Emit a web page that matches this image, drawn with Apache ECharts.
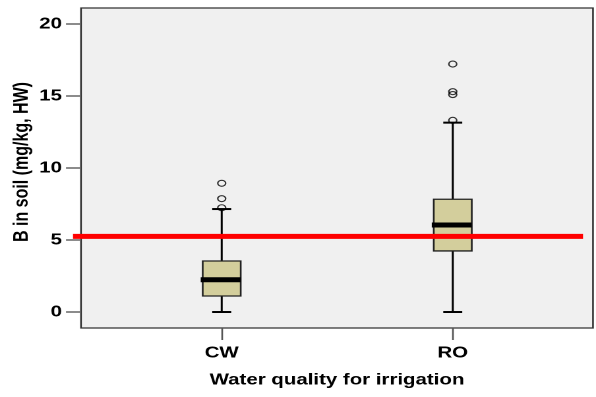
<!DOCTYPE html>
<html>
<head>
<meta charset="utf-8">
<script src="https://cdn.jsdelivr.net/npm/echarts@6/dist/echarts.min.js"></script>
<style>
  html, body { margin: 0; padding: 0; background: #ffffff; overflow: hidden; }
  #wrap { width: 596px; height: 397px; overflow: hidden; }
  #chart { height: 397px; transform-origin: 0 0; }
</style>
</head>
<body>
<div id="wrap"><div id="chart"></div></div>
<script>
// Boron in soil by irrigation water quality
const categories = ['CW', 'RO'];
const lowWhisker = [0, 0];
const q1 = [1.11, 4.24];
const median = [2.24, 6.04];
const q3 = [3.54, 7.83];
const highWhisker = [7.15, 13.15];
const outliersCW = [8.94, 7.87, 7.24];
const outliersRO = [17.22, 15.3, 15.1, 13.31];
const yTicks = [0, 5, 10, 15, 20];
const threshold = 5.25;

const FONT = '"Liberation Sans", Arial, sans-serif';

// The chart is laid out on a narrower canvas and stretched horizontally,
// giving the wide lettering and oval outlier markers of the original plot.
const OUT_W = 596;
const INNER_W = 452;
const SX = OUT_W / INNER_W;
const chartEl = document.getElementById('chart');
chartEl.style.width = INNER_W + 'px';
chartEl.style.transform = 'scaleX(' + SX + ')';

const boxData = categories.map((c, i) =>
  [i, lowWhisker[i], q1[i], median[i], q3[i], highWhisker[i]]);
const outlierData = [];
outliersCW.forEach(v => outlierData.push([0, v]));
outliersRO.forEach(v => outlierData.push([1, v]));

function renderBox(params, api) {
  const x = api.value(0);
  const pLow = api.coord([x, api.value(1)]);
  const pQ1 = api.coord([x, api.value(2)]);
  const pMed = api.coord([x, api.value(3)]);
  const pQ3 = api.coord([x, api.value(4)]);
  const pHigh = api.coord([x, api.value(5)]);
  const cx = pMed[0];
  const half = 19 / SX;
  const cap = 9.5 / SX;
  const vStyle = { stroke: '#000', lineWidth: 1.5 };
  const hStyle = { stroke: '#000', lineWidth: 2 };
  return {
    type: 'group',
    children: [
      { type: 'line', shape: { x1: cx, y1: pQ3[1], x2: cx, y2: pHigh[1] }, style: vStyle },
      { type: 'line', shape: { x1: cx, y1: pQ1[1], x2: cx, y2: pLow[1] }, style: vStyle },
      { type: 'line', shape: { x1: cx - cap, y1: pHigh[1], x2: cx + cap, y2: pHigh[1] }, style: hStyle },
      { type: 'line', shape: { x1: cx - cap, y1: pLow[1], x2: cx + cap, y2: pLow[1] }, style: hStyle },
      { type: 'rect', shape: { x: cx - half, y: pQ3[1], width: half * 2, height: pQ1[1] - pQ3[1] },
        style: { fill: '#D3CE9C', stroke: '#222', lineWidth: 1.3 } },
      { type: 'line', shape: { x1: cx - half - 2 / SX, y1: pMed[1], x2: cx + half, y2: pMed[1] },
        style: { stroke: '#000', lineWidth: 5 } }
    ]
  };
}

function renderThreshold(params, api) {
  const cs = params.coordSys;
  const y = api.coord([0, api.value(1)])[1];
  return {
    type: 'line',
    shape: { x1: cs.x - 8 / SX, y1: y, x2: cs.x + cs.width - 10 / SX, y2: y },
    style: { stroke: '#FF0000', lineWidth: 5 }
  };
}

const chart = echarts.init(chartEl, null, { renderer: 'canvas', devicePixelRatio: 2 });
chart.setOption({
  animation: false,
  backgroundColor: '#ffffff',
  grid: {
    left: 81 / SX, top: 8, width: 512 / SX, height: 320,
    outerBoundsMode: 'none',
    containLabel: false,
    show: true, backgroundColor: '#F0F0F0', borderColor: '#333', borderWidth: 1.3
  },
  xAxis: {
    type: 'value',
    min: -0.609,
    max: 1.607,
    name: 'Water quality for irrigation',
    nameLocation: 'middle',
    nameGap: 44,
    nameMoveOverlap: false,
    nameTextStyle: { fontFamily: FONT, fontWeight: 'bold', fontSize: 15.5, color: '#000' },
    axisLine: { show: false, onZero: false },
    splitLine: { show: false },
    axisTick: { show: true, length: 12, lineStyle: { color: '#555', width: 1.3 }, customValues: [0, 1] },
    axisLabel: {
      customValues: [0, 1],
      formatter: v => categories[Math.round(v)] || '',
      margin: 17,
      fontFamily: FONT, fontWeight: 'bold', fontSize: 15.5, color: '#000'
    }
  },
  yAxis: {
    type: 'value',
    min: -1.11,
    max: 21.11,
    name: 'B in soil (mg/kg, HW)',
    nameLocation: 'middle',
    nameGap: 37,
    nameMoveOverlap: false,
    nameRotate: 90,
    nameTextStyle: { fontFamily: FONT, fontWeight: 'bold', fontSize: 16, color: '#000', padding: [0, 0, 0, 12] },
    axisLine: { show: false, onZero: false },
    splitLine: { show: false },
    axisTick: { show: true, length: 15 / SX, lineStyle: { color: '#666', width: 1.5 }, customValues: yTicks },
    axisLabel: {
      customValues: yTicks,
      margin: 19 / SX,
      fontFamily: FONT, fontWeight: 'bold', fontSize: 15.5, color: '#000'
    }
  },
  series: [
    {
      type: 'custom',
      renderItem: renderBox,
      data: boxData,
      encode: { x: 0, y: [1, 2, 3, 4, 5] },
      z: 2
    },
    {
      type: 'scatter',
      data: outlierData,
      symbol: 'circle',
      symbolSize: 6,
      itemStyle: { color: 'rgba(0,0,0,0)', borderColor: '#000', borderWidth: 1.1 },
      z: 3
    },
    {
      type: 'custom',
      renderItem: renderThreshold,
      data: [[0, threshold]],
      encode: { x: 0, y: 1 },
      clip: false,
      z: 4
    }
  ]
});
</script>
</body>
</html>
